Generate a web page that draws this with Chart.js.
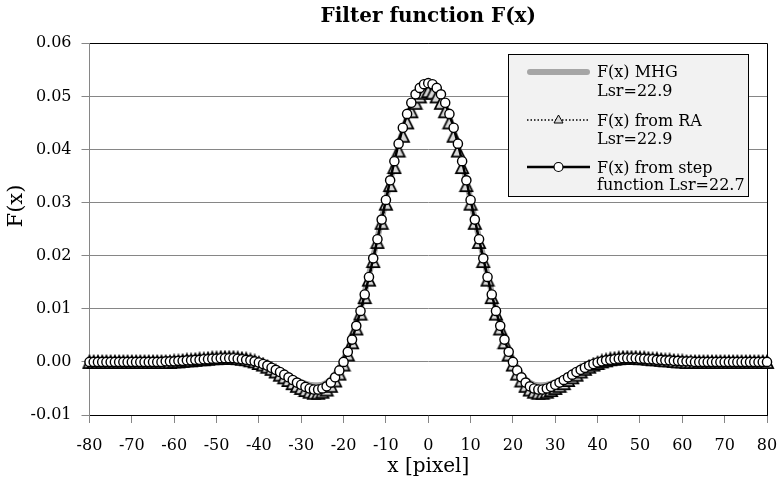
<!DOCTYPE html>
<html><head><meta charset="utf-8">
<script src="https://cdn.jsdelivr.net/npm/chart.js@4"></script>
<style>html,body{margin:0;padding:0;background:#fff}canvas{display:block}</style>
</head><body>
<canvas id="c" width="779" height="483"></canvas>
<script>
const xValues = [
-80,-79,-78,-77,-76,-75,-74,-73,-72,-71,-70,-69,-68,-67,-66,-65,-64,-63,-62,-61,
-60,-59,-58,-57,-56,-55,-54,-53,-52,-51,-50,-49,-48,-47,-46,-45,-44,-43,-42,-41,
-40,-39,-38,-37,-36,-35,-34,-33,-32,-31,-30,-29,-28,-27,-26,-25,-24,-23,-22,-21,
-20,-19,-18,-17,-16,-15,-14,-13,-12,-11,-10,-9,-8,-7,-6,-5,-4,-3,-2,-1,
0,1,2,3,4,5,6,7,8,9,10,11,12,13,14,15,16,17,18,19,
20,21,22,23,24,25,26,27,28,29,30,31,32,33,34,35,36,37,38,39,
40,41,42,43,44,45,46,47,48,49,50,51,52,53,54,55,56,57,58,59,
60,61,62,63,64,65,66,67,68,69,70,71,72,73,74,75,76,77,78,79,80];

const mhgValues = [
0,0,0,0,0,0,0,0,0,0,0,
0,0,0,0,0,0,0,0,0,0,
.0001,.0001,.0001,.0002,.0002,.0003,.0003,.0004,.0004,.0005,
.0005,.0005,.0005,.0005,.0005,.0004,.0003,.0002,.0000,-.0002,
-.0005,-.0008,-.0011,-.0015,-.0019,-.0023,-.0027,-.0031,-.0035,-.0038,
-.0041,-.0043,-.0044,-.0044,-.0043,-.0039,-.0033,-.0023,-.0011,.0004,
.0023,.0046,.0072,.0100,.0131,.0164,.0198,.0233,.0269,.0305,
.0341,.0375,.0407,.0436,.0461,.0482,.0498,.0510,.0517,
.0520,.0517,.0510,.0498,.0482,.0461,.0436,.0407,.0375,.0341,
.0305,.0269,.0233,.0198,.0164,.0131,.0100,.0072,.0046,.0023,
.0004,-.0011,-.0023,-.0033,-.0039,-.0043,-.0044,-.0044,-.0043,-.0041,
-.0038,-.0035,-.0031,-.0027,-.0023,-.0019,-.0015,-.0011,-.0008,-.0005,
-.0002,.0000,.0002,.0003,.0004,.0005,.0005,.0005,.0005,.0005,
.0005,.0004,.0004,.0003,.0003,.0002,.0002,.0001,.0001,.0001,
0,0,0,0,0,0,0,0,0,0,
0,0,0,0,0,0,0,0,0,0,0];

const raValues = [
0,0,0,0,0,0,0,0,0,0,0,
0,0,0,0,0,0,0,0,0,
.0001,
.0001,.0002,.0003,.0003,.0004,.0005,.0005,.0006,.0007,.0007,
.0008,.0008,.0008,.0008,.0007,.0006,.0005,.0003,.0001,-.0002,
-.0005,-.0009,-.0013,-.0018,-.0024,-.0029,-.0034,-.0040,-.0045,-.0049,
-.0053,-.0056,-.0058,-.0058,-.0056,-.0052,-.0045,-.0035,-.0022,-.0005,
.0014,.0037,.0063,.0091,.0122,.0155,.0190,.0226,.0262,.0298,
.0333,.0367,.0398,.0426,.0451,.0472,.0488,.0500,.0507,
.0510,.0507,.0500,.0488,.0472,.0451,.0426,.0398,.0367,.0333,
.0298,.0262,.0226,.0190,.0155,.0122,.0091,.0063,.0037,.0014,
-.0005,-.0022,-.0035,-.0045,-.0052,-.0056,-.0058,-.0058,-.0056,-.0053,
-.0049,-.0045,-.0040,-.0034,-.0029,-.0024,-.0018,-.0013,-.0009,-.0005,
-.0002,.0001,.0003,.0005,.0006,.0007,.0008,.0008,.0008,.0008,
.0007,.0007,.0006,.0005,.0005,.0004,.0003,.0003,.0002,.0001,
.0001,0,0,0,0,0,0,0,0,0,
0,0,0,0,0,0,0,0,0,0,0];

const stepValues = [
0,0,0,0,0,0,0,0,0,0,0,
0,0,0,0,0,0,0,
.0001,.0001,.0001,
.0002,.0002,.0003,.0003,.0004,.0004,.0005,.0005,.0006,.0006,
.0007,.0007,.0007,.0007,.0006,.0005,.0004,.0003,.0001,-.0001,
-.0004,-.0007,-.0011,-.0015,-.0019,-.0024,-.0029,-.0034,-.0039,-.0043,
-.0047,-.0050,-.0052,-.0052,-.0050,-.0046,-.0039,-.0029,-.0016,.0000,
.0019,.0042,.0068,.0096,.0127,.0160,.0195,.0231,.0268,.0305,
.0342,.0378,.0411,.0441,.0467,.0488,.0504,.0516,.0523,
.0525,.0523,.0516,.0504,.0488,.0467,.0441,.0411,.0378,.0342,
.0305,.0268,.0231,.0195,.0160,.0127,.0096,.0068,.0042,.0019,
.0000,-.0016,-.0029,-.0039,-.0046,-.0050,-.0052,-.0052,-.0050,-.0047,
-.0043,-.0039,-.0034,-.0029,-.0024,-.0019,-.0015,-.0011,-.0007,-.0004,
-.0001,.0001,.0003,.0004,.0005,.0006,.0007,.0007,.0007,.0007,
.0006,.0006,.0005,.0005,.0004,.0004,.0003,.0003,.0002,.0002,
.0001,.0001,.0001,0,0,0,0,0,0,0,
0,0,0,0,0,0,0,0,0,0,0];

const xTickLabels = ['-80','-70','-60','-50','-40','-30','-20','-10','0','10','20','30','40','50','60','70','80'];
const yTickLabels = ['-0.01','0.00','0.01','0.02','0.03','0.04','0.05','0.06'];
const legendLines = [['F(x) MHG','Lsr=22.9'],['F(x) from RA','Lsr=22.9'],['F(x) from step','function Lsr=22.7']];
const chartTitle = 'Filter function F(x)';
const xTitle = 'x [pixel]';
const yTitle = 'F(x)';

const FONT = "'DejaVu Serif', serif";
Chart.defaults.font.family = FONT;
Chart.defaults.color = '#000';

const toPts = vals => xValues.map((x, i) => ({x: x, y: vals[i]}));

function makeTriangle(w, h, lw) {
  const c = document.createElement('canvas');
  c.width = w + 2; c.height = h + 2;
  const g = c.getContext('2d');
  g.fillStyle = '#d9d9d9'; g.strokeStyle = '#000'; g.lineWidth = lw; g.lineJoin = 'miter';
  g.beginPath();
  g.moveTo(c.width / 2, 1 + lw / 2);
  g.lineTo(c.width - 1 - lw / 2, c.height - 1 - lw / 2);
  g.lineTo(1 + lw / 2, c.height - 1 - lw / 2);
  g.closePath(); g.fill(); g.stroke();
  return c;
}
const triMarker = makeTriangle(14, 14, 1.7);

const framePlugin = {
  id: 'frame',
  beforeDatasetsDraw(chart) {
    const a = chart.chartArea, ctx = chart.ctx;
    ctx.save();
    ctx.strokeStyle = '#000'; ctx.lineWidth = 1;
    ctx.beginPath();
    ctx.moveTo(Math.round(a.left), Math.round(a.top) + 0.5);
    ctx.lineTo(Math.round(a.right) + 0.5, Math.round(a.top) + 0.5);
    ctx.lineTo(Math.round(a.right) + 0.5, Math.round(a.bottom));
    ctx.stroke();
    ctx.restore();
  },
  afterDraw(chart) {
    const a = chart.chartArea, ctx = chart.ctx;
    ctx.save();
    ctx.fillStyle = '#000';
    ctx.textAlign = 'center'; ctx.textBaseline = 'middle';
    ctx.font = "bold 20px " + FONT;
    ctx.fillText(chartTitle, (a.left + a.right) / 2, 17);
    ctx.font = "21px " + FONT;
    ctx.translate(17, 206);
    ctx.rotate(-Math.PI / 2);
    ctx.fillText(yTitle, 0, 0);
    ctx.restore();
  }
};

const legendPlugin = {
  id: 'boxLegend',
  afterDatasetsDraw(chart) {
    const ctx = chart.ctx;
    ctx.save();
    const bx = 508.5, by = 54.5, bw = 240, bh = 142;
    ctx.fillStyle = '#f2f2f2'; ctx.fillRect(bx, by, bw, bh);
    ctx.strokeStyle = '#000'; ctx.lineWidth = 1; ctx.strokeRect(bx, by, bw, bh);
    const x0 = 527, x1 = 590, xm = 558.5;
    ctx.strokeStyle = '#a6a6a6'; ctx.lineWidth = 6; ctx.lineCap = 'round';
    ctx.beginPath(); ctx.moveTo(x0 + 3, 72); ctx.lineTo(x1 - 3, 72); ctx.stroke();
    ctx.lineCap = 'butt';
    ctx.strokeStyle = '#000'; ctx.lineWidth = 1.5; ctx.setLineDash([1.5, 2]);
    ctx.beginPath(); ctx.moveTo(x0, 120); ctx.lineTo(x1, 120); ctx.stroke();
    ctx.setLineDash([]);
    ctx.fillStyle = '#d9d9d9'; ctx.lineWidth = 1;
    ctx.beginPath(); ctx.moveTo(xm, 115); ctx.lineTo(xm + 4.5, 123); ctx.lineTo(xm - 4.5, 123); ctx.closePath();
    ctx.fill(); ctx.stroke();
    ctx.lineWidth = 2.5;
    ctx.beginPath(); ctx.moveTo(x0, 167); ctx.lineTo(x1, 167); ctx.stroke();
    ctx.fillStyle = '#fff'; ctx.lineWidth = 1.2;
    ctx.beginPath(); ctx.arc(xm, 167, 4.5, 0, Math.PI * 2); ctx.fill(); ctx.stroke();
    ctx.fillStyle = '#000'; ctx.font = "16px " + FONT;
    ctx.textAlign = 'left'; ctx.textBaseline = 'middle';
    const ys = [[73, 91.5], [121.5, 140], [168.5, 186]];
    legendLines.forEach((lines, i) => lines.forEach((t, j) => ctx.fillText(t, 597, ys[i][j])));
    ctx.restore();
  }
};

new Chart(document.getElementById('c'), {
  type: 'line',
  data: {
    datasets: [
      {label: 'F(x) MHG', data: toPts(mhgValues), borderColor: '#a6a6a6', borderWidth: 6,
       pointRadius: 0, order: 2, clip: false},
      {label: 'F(x) from RA', data: toPts(raValues), borderColor: '#000', borderWidth: 1.5,
       borderDash: [1.5, 2], pointStyle: triMarker, pointRadius: 6,
       order: 1, clip: false},
      {label: 'F(x) from step', data: toPts(stepValues), borderColor: '#000', borderWidth: 2.5,
       pointStyle: 'circle', pointRadius: 4.6, pointBackgroundColor: '#fff',
       pointBorderColor: '#000', pointBorderWidth: 1.4, order: 0, clip: false}
    ]
  },
  options: {
    responsive: false, animation: false, devicePixelRatio: 1,
    layout: {padding: {left: 0, right: 12, top: 43.3, bottom: 0}},
    plugins: {legend: {display: false}, tooltip: {enabled: false}, title: {display: false}},
    scales: {
      x: {
        type: 'linear', min: -80, max: 80,
        ticks: {stepSize: 10, autoSkip: false, maxRotation: 0, padding: 13,
                font: {size: 16}, color: '#000',
                callback: (v, i) => xTickLabels[i]},
        grid: {drawOnChartArea: false, drawTicks: true, tickLength: 8, color: '#868686'},
        border: {color: '#000', width: 1},
        title: {display: true, text: xTitle, font: {size: 20}, color: '#000', padding: {top: 0, bottom: 4}},
        afterFit: s => { s.height = 68; s.paddingLeft = 0; s.paddingRight = 0; }
      },
      y: {
        min: -0.01, max: 0.06,
        ticks: {stepSize: 0.01, padding: 10, font: {size: 16}, color: '#000',
                callback: (v, i) => yTickLabels[i]},
        grid: {color: '#868686', tickLength: 8, drawTicks: true},
        border: {color: '#868686', width: 1},
        afterFit: s => { s.width = 89.5; s.paddingTop = 0; s.paddingBottom = 0; }
      }
    }
  },
  plugins: [framePlugin, legendPlugin]
});
</script>
</body></html>
